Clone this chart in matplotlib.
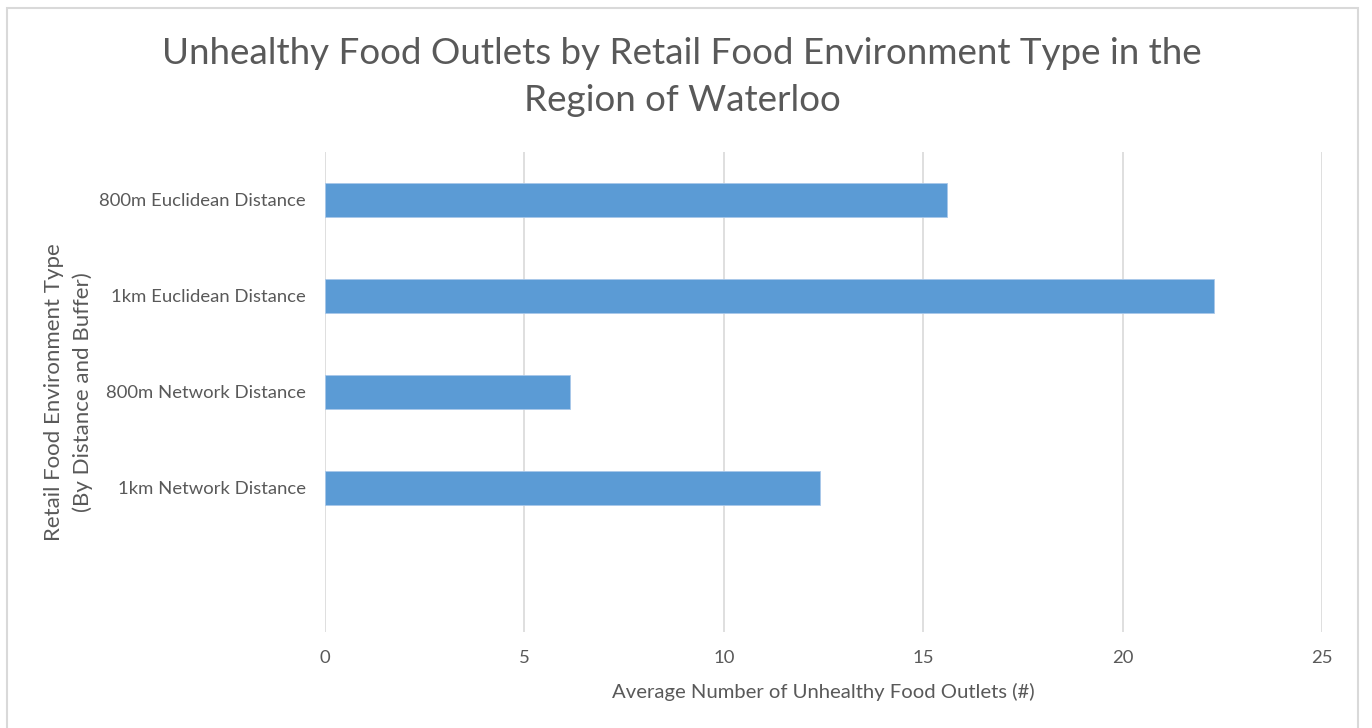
import matplotlib
matplotlib.use("Agg")
import matplotlib.pyplot as plt
from matplotlib.patches import Rectangle

categories = [
    "800m Euclidean Distance",
    "1km Euclidean Distance",
    "800m Network Distance",
    "1km Network Distance",
]
values = [15.6, 22.3, 6.15, 12.4]
x_ticks = [0, 5, 10, 15, 20, 25]

title = "Unhealthy Food Outlets by Retail Food Environment Type in the\nRegion of Waterloo"
x_label = "Average Number of Unhealthy Food Outlets (#)"
y_label = "Retail Food Environment Type\n(By Distance and Buffer)"

text_color = "#595959"
bar_color = "#5b9bd5"
grid_color = "#d9d9d9"

plt.rcParams["font.family"] = ["Lato", "DejaVu Sans"]

fig = plt.figure(figsize=(13.72, 7.28), dpi=100)
W, H = 1372, 728

# chart frame
fig.patches.append(Rectangle((7 / W, -0.05), (1358 - 7) / W, (728 - 8) / H + 0.05,
                             transform=fig.transFigure, fill=False,
                             edgecolor=grid_color, linewidth=1.5))

ax = fig.add_axes([325 / W, 1 - 632 / H, (1322 - 325) / W, (632 - 152) / H])

positions = list(range(len(categories)))
ax.barh(positions, values, height=0.355, color=bar_color,
        edgecolor="#a9c8ea", linewidth=0.6, zorder=3)

ax.set_xlim(0, 25)
ax.set_ylim(len(categories) + 0.5, -0.5)
ax.set_xticks(x_ticks)
ax.set_xticklabels([str(t) for t in x_ticks])
ax.set_yticks(positions)
ax.set_yticklabels(categories)
ax.tick_params(axis="both", length=0, colors=text_color, labelsize=13.3)
ax.tick_params(axis="x", pad=13)
ax.tick_params(axis="y", pad=14)

ax.xaxis.grid(True, color=grid_color, linewidth=1.2, zorder=0)
ax.yaxis.grid(False)
for s in ax.spines.values():
    s.set_visible(False)

ax.set_xlabel(x_label, fontsize=14.6, color=text_color, labelpad=12)
ax.set_ylabel(y_label, fontsize=16, color=text_color, linespacing=1.5)
ax.yaxis.set_label_coords(-0.233, 0.5)

fig.text(682 / W, 1 - 77 / H, title, ha="center", va="center",
         fontsize=26.5, color=text_color, linespacing=1.5)

fig.savefig("out.png", dpi=100, facecolor="white")
